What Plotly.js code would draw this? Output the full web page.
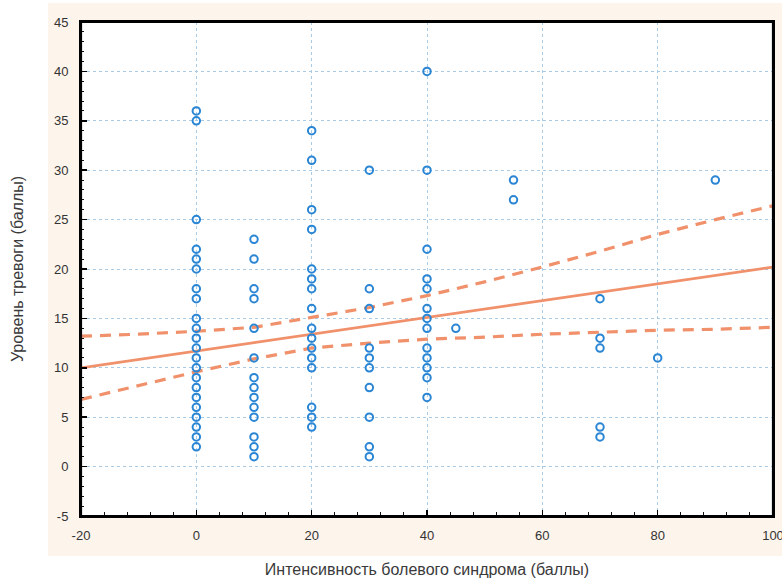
<!DOCTYPE html>
<html>
<head>
<meta charset="utf-8">
<script src="https://cdn.plot.ly/plotly-3.0.1.min.js"></script>
<style>
html,body{margin:0;padding:0;background:#ffffff;}
#wrap{position:relative;width:782px;height:582px;}
#panel{position:absolute;left:48px;top:3px;width:734px;height:553px;background:#fdf4ec;}
#chart{position:absolute;left:0;top:0;width:782px;height:582px;}
</style>
</head>
<body>
<div id="wrap"><div id="panel"></div><div id="chart"></div></div>
<script>
// Scatter data: pain intensity (x) and anxiety level (y)
const painX = [
  0,0,0,0,0,0,0,0,0,0,0,0,0,0,0,0,0,0,0,0,0,0,
  10,10,10,10,10,10,10,10,10,10,10,10,10,10,
  20,20,20,20,20,20,20,20,20,20,20,20,20,20,20,20,
  30,30,30,30,30,30,30,30,30,30,
  40,40,40,40,40,40,40,40,40,40,40,40,40,
  45,
  55,55,
  70,70,70,70,70,
  80,
  90
];
const anxietyY = [
  36,35,25,22,21,20,18,17,15,14,13,12,11,10,9,8,7,6,5,4,3,2,
  23,21,18,17,14,11,9,8,7,6,5,3,2,1,
  34,31,26,24,20,19,18,16,14,13,12,11,10,6,5,4,
  30,18,16,12,11,10,8,5,2,1,
  40,30,22,19,18,16,15,14,12,11,10,9,7,
  14,
  29,27,
  17,13,12,4,3,
  11,
  29
];

// Regression line and 95% confidence band
const fitX = [-20, 100];
const fitY = [10.0, 20.2];
const bandX = [-20, -10, 0, 10, 20, 30, 40, 50, 60, 70, 80, 90, 100];
const upperY = [13.2, 13.4, 13.7, 14.1, 15.1, 16.1, 17.3, 18.7, 20.2, 21.8, 23.5, 25.0, 26.4];
const lowerY = [6.8, 8.2, 9.6, 10.9, 12.0, 12.5, 12.9, 13.1, 13.4, 13.6, 13.8, 13.9, 14.1];

// Axis ticks
const xTicks = [-20, 0, 20, 40, 60, 80, 100];
const yTicks = [-5, 0, 5, 10, 15, 20, 25, 30, 35, 40, 45];

const lineColor = '#f0916c';
const markerColor = '#2a86d4';

const traces = [
  {x: bandX, y: upperY, type: 'scatter', mode: 'lines',
   line: {color: lineColor, width: 3.2, dash: '11px,8px'}, hoverinfo: 'skip'},
  {x: bandX, y: lowerY, type: 'scatter', mode: 'lines',
   line: {color: lineColor, width: 3.2, dash: '11px,8px'}, hoverinfo: 'skip'},
  {x: fitX, y: fitY, type: 'scatter', mode: 'lines',
   line: {color: lineColor, width: 2.8}, hoverinfo: 'skip'},
  {x: painX, y: anxietyY, type: 'scatter', mode: 'markers',
   marker: {symbol: 'circle-open', size: 7.5, color: markerColor, line: {width: 2, color: markerColor}}}
];

const tickFont = {family: 'Arial, "Liberation Sans", sans-serif', size: 13, color: '#333333'};
const titleFont = {family: 'Arial, "Liberation Sans", sans-serif', size: 16, color: '#3a3a3a'};

const layout = {
  width: 782, height: 582,
  margin: {l: 81, r: 9, t: 22, b: 66, pad: 0},
  paper_bgcolor: 'rgba(0,0,0,0)',
  plot_bgcolor: '#ffffff',
  showlegend: false,
  xaxis: {
    range: [-20, 100], tickvals: xTicks, ticktext: xTicks.map(String),
    ticks: 'inside', ticklen: 6, tickwidth: 1.5, tickcolor: '#000000',
    minor: {ticks: 'inside', dtick: 4, tick0: -20, ticklen: 4, tickwidth: 1, tickcolor: '#111111', showgrid: false},
    showline: true, linecolor: '#000000', linewidth: 2, mirror: true,
    showgrid: true, gridcolor: '#a9cbe6', gridwidth: 1, griddash: 'dot',
    zeroline: false, tickfont: tickFont, ticklabelstandoff: 6, ticklabeloverflow: 'allow',
    title: {text: 'Интенсивность болевого синдрома (баллы)', font: titleFont, standoff: 22},
    automargin: false
  },
  yaxis: {
    range: [-5, 45], tickvals: yTicks, ticktext: yTicks.map(String),
    ticks: 'inside', ticklen: 6, tickwidth: 1.5, tickcolor: '#000000',
    minor: {ticks: 'inside', dtick: 1, tick0: 0, ticklen: 3, tickwidth: 1, tickcolor: '#111111', showgrid: false},
    showline: true, linecolor: '#000000', linewidth: 2, mirror: true,
    showgrid: true, gridcolor: '#a9cbe6', gridwidth: 1, griddash: 'dot',
    zeroline: false, tickfont: tickFont, ticklabelstandoff: 8, ticklabeloverflow: 'allow',
    title: {text: 'Уровень тревоги (баллы)', font: titleFont, standoff: 26},
    automargin: false
  },
  shapes: [{
    type: 'rect', xref: 'paper', yref: 'paper', layer: 'above',
    x0: 0, x1: 1, y0: 0, y1: 1,
    line: {color: '#000000', width: 2.2}, fillcolor: 'rgba(0,0,0,0)'
  }]
};

Plotly.newPlot('chart', traces, layout, {staticPlot: true, displayModeBar: false});
</script>
</body>
</html>
